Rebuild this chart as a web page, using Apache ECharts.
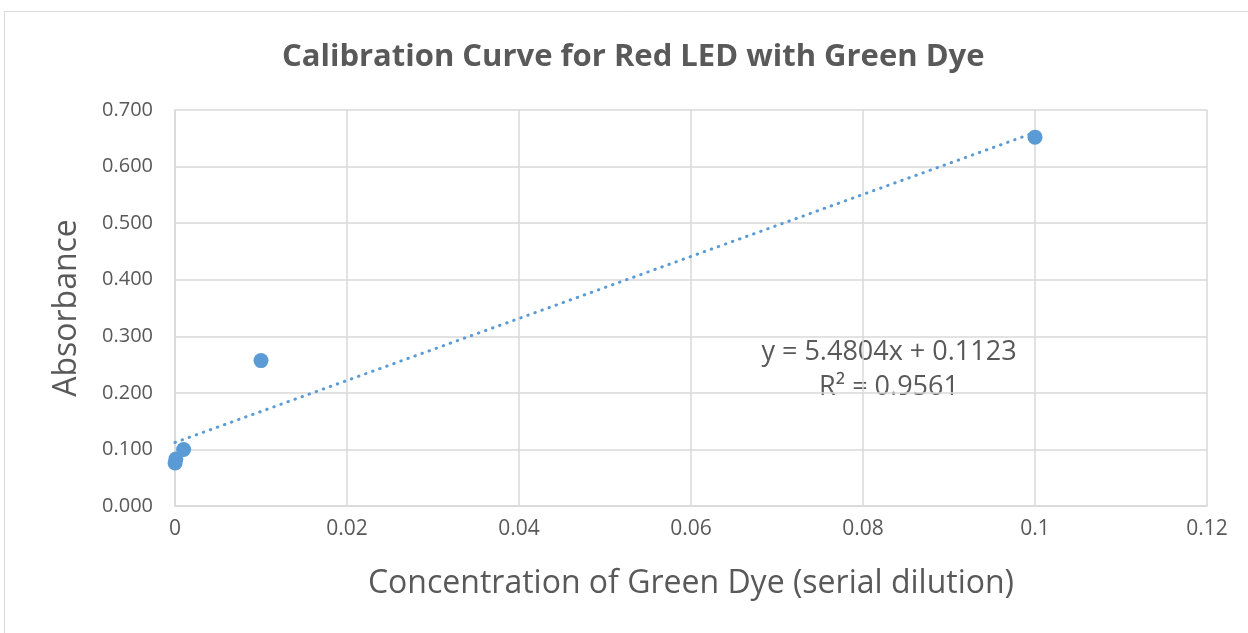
<!DOCTYPE html>
<html>
<head>
<meta charset="utf-8">
<script src="https://cdn.jsdelivr.net/npm/echarts@6/dist/echarts.min.js"></script>
<style>html,body{margin:0;padding:0;background:#fff}#c{width:1248px;height:633px}</style>
</head>
<body>
<div id="c"></div>
<script>
const concentrations = [0.00001, 0.0001, 0.001, 0.01, 0.1];
const absorbances = [0.076, 0.083, 0.100, 0.257, 0.652];
const slope = 5.4804;
const intercept = 0.1123;
const rSquared = 0.9561;
const trendRange = [0, 0.1];

const chart = echarts.init(document.getElementById('c'));
const font = '"Open Sans", "Liberation Sans", sans-serif';
const txt = '#595959';
chart.setOption({
  animation: false,
  backgroundColor: '#fff',
  title: {
    text: 'Calibration Curve for Red LED with Green Dye',
    left: 277, top: 37,
    textStyle: {fontFamily: font, fontWeight: 'bold', fontSize: 31, color: txt}
  },
  grid: {left: 175, right: 41, top: 110, bottom: 127},
  xAxis: {
    type: 'value', min: 0, max: 0.12, interval: 0.02,
    name: 'Concentration of Green Dye (serial dilution)',
    nameLocation: 'middle', nameGap: 62,
    nameTextStyle: {fontFamily: font, fontSize: 32, color: txt},
    axisLine: {show: true, lineStyle: {color: '#d9d9d9', width: 1.5}},
    axisTick: {show: false},
    axisLabel: {fontFamily: font, fontSize: 21, color: txt, margin: 13,
      formatter: v => (v === 0 ? '0' : +v.toFixed(2) + '')},
    splitLine: {show: true, lineStyle: {color: '#d9d9d9', width: 1.5}}
  },
  yAxis: {
    type: 'value', min: 0, max: 0.7, interval: 0.1,
    name: 'Absorbance',
    nameLocation: 'middle', nameGap: 92,
    nameTextStyle: {fontFamily: font, fontSize: 32, color: txt},
    axisLine: {show: true, lineStyle: {color: '#d9d9d9', width: 1.5}},
    axisTick: {show: false},
    axisLabel: {fontFamily: font, fontSize: 20, color: txt, margin: 22,
      formatter: v => v.toFixed(3)},
    splitLine: {show: true, lineStyle: {color: '#d9d9d9', width: 1.5}}
  },
  series: [
    {
      type: 'line',
      data: trendRange.map(x => [x, slope * x + intercept]),
      showSymbol: false, symbol: 'none',
      lineStyle: {color: '#5b9bd5', width: 3, type: [0.5, 7], cap: 'round'},
      z: 1
    },
    {
      type: 'scatter',
      data: concentrations.map((c, i) => [c, absorbances[i]]),
      symbolSize: 15,
      itemStyle: {color: '#5b9bd5', opacity: 1},
      z: 2
    }
  ],
  graphic: [
    {type: 'rect', shape: {x: 4.5, y: 11.5, width: 1400, height: 800},
     style: {fill: 'none', stroke: '#d9d9d9', lineWidth: 1}, z: 0, silent: true},
    {type: 'text', x: 889, y: 352,
     style: {text: 'y = ' + slope + 'x + ' + intercept, fontFamily: font, fontSize: 27, fill: txt, align: 'center', verticalAlign: 'middle'}},
    {type: 'text', x: 889, y: 387,
     style: {text: 'R² = ' + rSquared, fontFamily: font, fontSize: 27, fill: txt, align: 'center', verticalAlign: 'middle'}}
  ]
});
</script>
</body>
</html>
